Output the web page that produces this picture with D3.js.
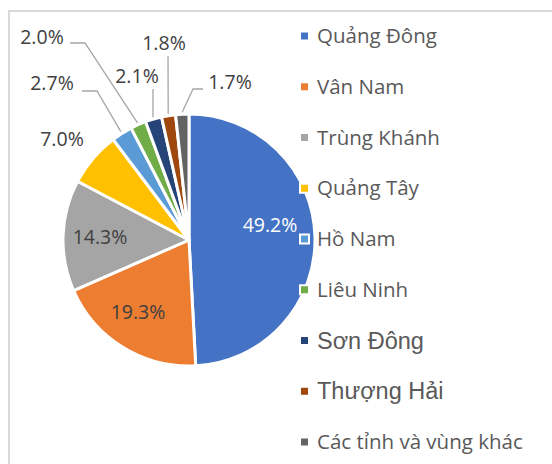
<!DOCTYPE html>
<html>
<head>
<meta charset="utf-8">
<script src="https://cdn.jsdelivr.net/npm/d3@7"></script>
<style>
  body { margin: 0; background: #fff; }
  svg { display: block; }
</style>
</head>
<body>
<div id="chart"></div>
<script>
// DATA
const provinces = ['Quảng Đông', 'Vân Nam', 'Trùng Khánh', 'Quảng Tây', 'Hồ Nam', 'Liêu Ninh', 'Sơn Đông', 'Thượng Hải', 'Các tỉnh và vùng khác'];
const shares = [49.2, 19.3, 14.3, 7.0, 2.7, 2.0, 2.1, 1.8, 1.7];
const colors = ['#4472c4', '#ed7d31', '#a5a5a5', '#ffc000', '#5b9bd5', '#70ad47', '#264478', '#9e480e', '#636363'];

// LAYOUT
const width = 552, height = 464;
const cx = 189, cy = 240, radius = 126;

// LABEL ANCHORS (text centre) + LEADER ELBOWS FOR OUTSIDE LABELS
const labelPos = [[270, 225], [138, 312], [100, 237], [62, 139], [52, 83], [42, 37], [137, 76], [164, 43], [230, 82]];
const leaderElbow = [null, null, null, null, [[82, 91], [97, 91]], [[70, 43], [85, 43]], [[153, 89]], [[168, 56]], [[203, 89], [193, 89]]];

// LEGEND FONTS (the source mixes two)
const legendFont = ['Open Sans', 'Open Sans', 'Open Sans', 'Open Sans', 'Open Sans', 'Open Sans', 'Liberation Sans', 'Liberation Sans', 'Open Sans'];

const svg = d3.select('#chart').append('svg')
   .attr('width', width)
   .attr('height', height);

// CHART FRAME
svg.append('rect')
   .attr('x', 9)
   .attr('y', 11)
   .attr('width', 600)
   .attr('height', 600)
   .attr('fill', 'none')
   .attr('stroke', '#d9d9d9')
   .attr('stroke-width', 2);

// PIE
const pie = d3.pie().sort(null).value(d => d);
const arcs = pie(shares);
const arc = d3.arc().innerRadius(0).outerRadius(radius);
const edge = d3.arc().innerRadius(radius + 2).outerRadius(radius + 2);

const g = svg.append('g').attr('transform', `translate(${cx},${cy})`);

g.selectAll('path')
   .data(arcs)
   .enter().append('path')
      .attr('d', arc)
      .attr('fill', (d, i) => colors[i])
      .attr('stroke', '#fff')
      .attr('stroke-width', 3)
      .attr('stroke-linejoin', 'round');

// LEADER LINES
const line = d3.line();
arcs.forEach((d, i) => {
   if (!leaderElbow[i]) return;
   const end = edge.centroid(d);
   const pts = leaderElbow[i].map(p => [p[0] - cx, p[1] - cy]).concat([end]);
   g.append('path')
      .attr('d', line(pts))
      .attr('fill', 'none')
      .attr('stroke', '#a6a6a6')
      .attr('stroke-width', 1.3);
});

// DATA LABELS
svg.selectAll('text.lbl')
   .data(arcs)
   .enter().append('text')
      .attr('class', 'lbl')
      .attr('x', (d, i) => labelPos[i][0])
      .attr('y', (d, i) => labelPos[i][1])
      .attr('dy', '0.35em')
      .attr('text-anchor', 'middle')
      .attr('font-family', 'Open Sans')
      .attr('font-size', 19.5)
      .attr('fill', (d, i) => i === 0 ? '#ffffff' : '#404040')
      .text(d => d.data.toFixed(1) + '%');

// LEGEND
const legendY = d3.scalePoint()
   .domain(provinces)
   .range([36, 442]);

const legend = svg.selectAll('g.legend')
   .data(provinces)
   .enter().append('g')
      .attr('class', 'legend')
      .attr('transform', d => `translate(300,${legendY(d)})`);

legend.append('rect')
   .attr('x', 0)
   .attr('y', -4.5)
   .attr('width', 9)
   .attr('height', 9)
   .attr('fill', (d, i) => colors[i])
   .attr('stroke', '#fff')
   .attr('stroke-width', 2);

legend.append('text')
   .attr('x', 17)
   .attr('dy', '0.35em')
   .attr('font-family', (d, i) => legendFont[i])
   .attr('font-size', (d, i) => legendFont[i] === 'Open Sans' ? 20.5 : 23.5)
   .attr('fill', '#595959')
   .text(d => d);
</script>
</body>
</html>
